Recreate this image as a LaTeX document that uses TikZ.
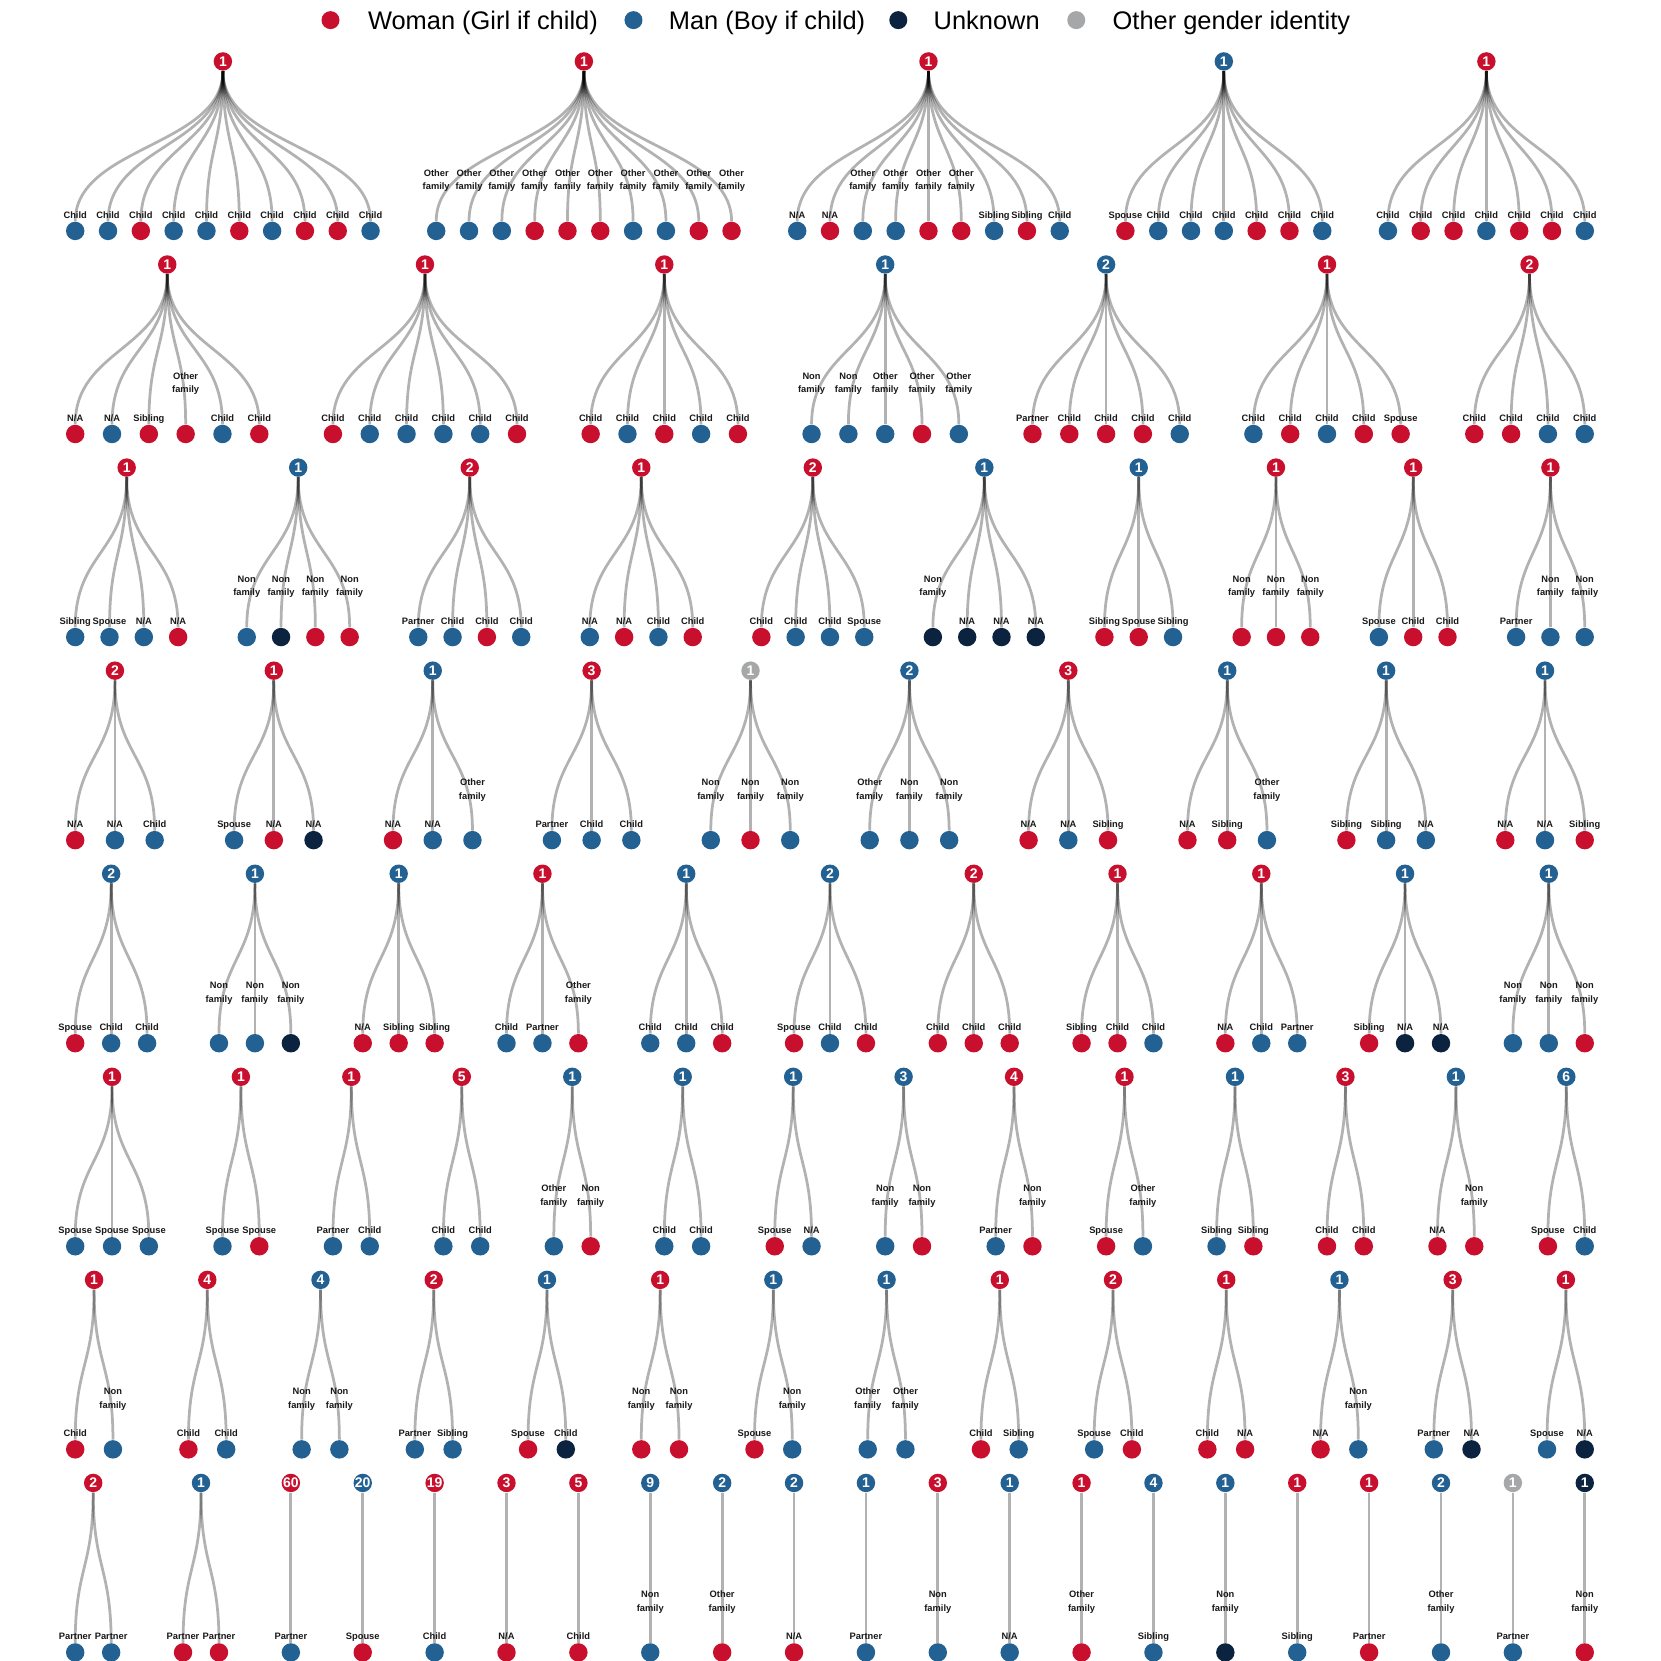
\documentclass[tikz,border=0pt]{standalone}
\usepackage{fontspec}
\setmainfont{Liberation Sans}
\definecolor{cw}{HTML}{C8102E}
\definecolor{cm}{HTML}{236192}
\definecolor{cu}{HTML}{0C2340}
\definecolor{cg}{HTML}{A5A7A8}
\tikzset{
 rootnode/.style={circle, inner sep=0pt, minimum size=8.7pt, text=white, font=\fontsize{6.6pt}{7pt}\selectfont\bfseries},
 leafnode/.style={circle, inner sep=0pt, minimum size=8.7pt},
 linkline/.style={draw=black, draw opacity=0.3, line width=1.3pt},
 lab/.style={anchor=base, inner sep=0pt, text=black!90, font=\fontsize{4.4pt}{5pt}\selectfont\bfseries},
 legdot/.style={circle, inner sep=0pt, minimum size=8.5pt},
 legtext/.style={anchor=base west, inner sep=0pt, font=\fontsize{12pt}{14pt}\selectfont},
}
% label macros: #1 node name, #2 x, #3 leaf y
\newcommand\famlabsingle[4]{\node[lab] (#1-l) at (#2,#3-11.8) {#4};}
\newcommand\famlabdouble[5]{\node[lab] (#1-la) at (#2,#3-51.8) {#4};\node[lab] (#1-lb) at (#2,#3-38.8) {#5};}
\newcommand\famlabC[3]{\famlabsingle{#1}{#2}{#3}{Child}}
\newcommand\famlabNA[3]{\famlabsingle{#1}{#2}{#3}{N/A}}
\newcommand\famlabS[3]{\famlabsingle{#1}{#2}{#3}{Sibling}}
\newcommand\famlabP[3]{\famlabsingle{#1}{#2}{#3}{Partner}}
\newcommand\famlabSp[3]{\famlabsingle{#1}{#2}{#3}{Spouse}}
\newcommand\famlabO[3]{\famlabdouble{#1}{#2}{#3}{Other}{family}}
\newcommand\famlabNF[3]{\famlabdouble{#1}{#2}{#3}{Non}{family}}
% #1 name, #2 root y, #3 spacing, #4 start index, #5 n children, #6 root colour, #7 number, #8 list colour/label
\newcommand\famtree[8]{%
  \pgfmathsetmacro\rx{71+(#4+(#5-1)/2)*#3}%
  \pgfmathsetmacro\ly{#2+160}%
  \pgfmathsetmacro\my{#2+80}%
  \node[rootnode, fill=#6] (#1) at (\rx,#2) {#7};
  \foreach \cc/\cl [count=\j from 0] in {#8} {
    \pgfmathsetmacro\cx{71+(#4+\j)*#3}
    \node[leafnode, fill=\cc] (#1-\j) at (\cx,\ly) {};
    \draw[linkline] (#1) .. controls (\rx,\my) and (\cx,\my) .. (#1-\j);
  }
  \foreach \cc/\cl [count=\j from 0] in {#8} {
    \pgfmathsetmacro\cx{71+(#4+\j)*#3}
    \csname famlab\cl\endcsname{#1-\j}{\cx}{\ly}
  }
}
\begin{document}
\begin{tikzpicture}[x=0.5pt,y=-0.5pt]
\useasboundingbox[fill=white] (0,0) rectangle (1568,1568);
% legend
\node[legdot, fill=cw] (lg1) at (312,19) {};
\node[legtext] (lt1) at (347,27.5) {Woman (Girl if child)};
\node[legdot, fill=cm] (lg2) at (598,19) {};
\node[legtext] (lt2) at (631,27.5) {Man (Boy if child)};
\node[legdot, fill=cu] (lg3) at (848,19) {};
\node[legtext] (lt3) at (881,27.5) {Unknown};
\node[legdot, fill=cg] (lg4) at (1016,19) {};
\node[legtext] (lt4) at (1050,27.5) {Other gender identity};
% row 1
\famtree{a1}{58}{30.98}{0}{10}{cw}{1}{cm/C,cm/C,cw/C,cm/C,cm/C,cw/C,cm/C,cw/C,cw/C,cm/C}
\famtree{a2}{58}{30.98}{11}{10}{cw}{1}{cm/O,cm/O,cm/O,cw/O,cw/O,cw/O,cm/O,cm/O,cw/O,cw/O}
\famtree{a3}{58}{30.98}{22}{9}{cw}{1}{cm/NA,cw/NA,cm/O,cm/O,cw/O,cw/O,cm/S,cw/S,cm/C}
\famtree{a4}{58}{30.98}{32}{7}{cm}{1}{cw/Sp,cm/C,cm/C,cm/C,cw/C,cw/C,cm/C}
\famtree{a5}{58}{30.98}{40}{7}{cw}{1}{cm/C,cw/C,cw/C,cm/C,cw/C,cw/C,cm/C}
% row 2
\famtree{b1}{249.7}{34.756}{0}{6}{cw}{1}{cw/NA,cm/NA,cw/S,cw/O,cm/C,cw/C}
\famtree{b2}{249.7}{34.756}{7}{6}{cw}{1}{cw/C,cm/C,cm/C,cm/C,cm/C,cw/C}
\famtree{b3}{249.7}{34.756}{14}{5}{cw}{1}{cw/C,cm/C,cw/C,cm/C,cw/C}
\famtree{b4}{249.7}{34.756}{20}{5}{cm}{1}{cm/NF,cm/NF,cm/O,cw/O,cm/O}
\famtree{b5}{249.7}{34.756}{26}{5}{cm}{2}{cw/P,cw/C,cw/C,cw/C,cm/C}
\famtree{b6}{249.7}{34.756}{32}{5}{cw}{1}{cm/C,cw/C,cm/C,cw/C,cw/Sp}
\famtree{b7}{249.7}{34.756}{38}{4}{cw}{2}{cw/C,cw/C,cm/C,cm/C}
% row 3
\famtree{c1}{441.4}{32.386}{0}{4}{cw}{1}{cm/S,cm/Sp,cm/NA,cw/NA}
\famtree{c2}{441.4}{32.386}{5}{4}{cm}{1}{cm/NF,cu/NF,cw/NF,cw/NF}
\famtree{c3}{441.4}{32.386}{10}{4}{cw}{2}{cm/P,cm/C,cw/C,cm/C}
\famtree{c4}{441.4}{32.386}{15}{4}{cw}{1}{cm/NA,cw/NA,cm/C,cw/C}
\famtree{c5}{441.4}{32.386}{20}{4}{cw}{2}{cw/C,cm/C,cm/C,cm/Sp}
\famtree{c6}{441.4}{32.386}{25}{4}{cm}{1}{cu/NF,cu/NA,cu/NA,cu/NA}
\famtree{c7}{441.4}{32.386}{30}{3}{cm}{1}{cw/S,cw/Sp,cm/S}
\famtree{c8}{441.4}{32.386}{34}{3}{cw}{1}{cw/NF,cw/NF,cw/NF}
\famtree{c9}{441.4}{32.386}{38}{3}{cw}{1}{cm/Sp,cw/C,cw/C}
\famtree{c10}{441.4}{32.386}{42}{3}{cw}{1}{cm/P,cm/NF,cm/NF}
% row 4
\famtree{d1}{633.1}{37.5}{0}{3}{cw}{2}{cw/NA,cm/NA,cm/C}
\famtree{d2}{633.1}{37.5}{4}{3}{cw}{1}{cm/Sp,cw/NA,cu/NA}
\famtree{d3}{633.1}{37.5}{8}{3}{cm}{1}{cw/NA,cm/NA,cm/O}
\famtree{d4}{633.1}{37.5}{12}{3}{cw}{3}{cm/P,cm/C,cm/C}
\famtree{d5}{633.1}{37.5}{16}{3}{cg}{1}{cm/NF,cw/NF,cm/NF}
\famtree{d6}{633.1}{37.5}{20}{3}{cm}{2}{cm/O,cm/NF,cm/NF}
\famtree{d7}{633.1}{37.5}{24}{3}{cw}{3}{cw/NA,cm/NA,cw/S}
\famtree{d8}{633.1}{37.5}{28}{3}{cm}{1}{cw/NA,cw/S,cm/O}
\famtree{d9}{633.1}{37.5}{32}{3}{cm}{1}{cw/S,cm/S,cm/NA}
\famtree{d10}{633.1}{37.5}{36}{3}{cm}{1}{cw/NA,cm/NA,cw/S}
% row 5
\famtree{e1}{824.8}{33.929}{0}{3}{cm}{2}{cw/Sp,cm/C,cm/C}
\famtree{e2}{824.8}{33.929}{4}{3}{cm}{1}{cm/NF,cm/NF,cu/NF}
\famtree{e3}{824.8}{33.929}{8}{3}{cm}{1}{cw/NA,cw/S,cw/S}
\famtree{e4}{824.8}{33.929}{12}{3}{cw}{1}{cm/C,cm/P,cw/O}
\famtree{e5}{824.8}{33.929}{16}{3}{cm}{1}{cm/C,cm/C,cw/C}
\famtree{e6}{824.8}{33.929}{20}{3}{cm}{2}{cw/Sp,cm/C,cw/C}
\famtree{e7}{824.8}{33.929}{24}{3}{cw}{2}{cw/C,cw/C,cw/C}
\famtree{e8}{824.8}{33.929}{28}{3}{cw}{1}{cw/S,cw/C,cm/C}
\famtree{e9}{824.8}{33.929}{32}{3}{cw}{1}{cw/NA,cm/C,cm/P}
\famtree{e10}{824.8}{33.929}{36}{3}{cm}{1}{cw/S,cu/NA,cu/NA}
\famtree{e11}{824.8}{33.929}{40}{3}{cm}{1}{cm/NF,cm/NF,cw/NF}
% row 6
\famtree{f1}{1016.5}{34.756}{0}{3}{cw}{1}{cm/Sp,cm/Sp,cm/Sp}
\famtree{f2}{1016.5}{34.756}{4}{2}{cw}{1}{cm/Sp,cw/Sp}
\famtree{f3}{1016.5}{34.756}{7}{2}{cw}{1}{cm/P,cm/C}
\famtree{f4}{1016.5}{34.756}{10}{2}{cw}{5}{cm/C,cm/C}
\famtree{f5}{1016.5}{34.756}{13}{2}{cm}{1}{cm/O,cw/NF}
\famtree{f6}{1016.5}{34.756}{16}{2}{cm}{1}{cm/C,cm/C}
\famtree{f7}{1016.5}{34.756}{19}{2}{cm}{1}{cw/Sp,cm/NA}
\famtree{f8}{1016.5}{34.756}{22}{2}{cm}{3}{cm/NF,cw/NF}
\famtree{f9}{1016.5}{34.756}{25}{2}{cw}{4}{cm/P,cw/NF}
\famtree{f10}{1016.5}{34.756}{28}{2}{cw}{1}{cw/Sp,cm/O}
\famtree{f11}{1016.5}{34.756}{31}{2}{cm}{1}{cm/S,cw/S}
\famtree{f12}{1016.5}{34.756}{34}{2}{cw}{3}{cw/C,cw/C}
\famtree{f13}{1016.5}{34.756}{37}{2}{cm}{1}{cw/NA,cw/NF}
\famtree{f14}{1016.5}{34.756}{40}{2}{cm}{6}{cw/Sp,cm/C}
% row 7
\famtree{g1}{1208.2}{35.625}{0}{2}{cw}{1}{cw/C,cm/NF}
\famtree{g2}{1208.2}{35.625}{3}{2}{cw}{4}{cw/C,cm/C}
\famtree{g3}{1208.2}{35.625}{6}{2}{cm}{4}{cm/NF,cm/NF}
\famtree{g4}{1208.2}{35.625}{9}{2}{cw}{2}{cm/P,cm/S}
\famtree{g5}{1208.2}{35.625}{12}{2}{cm}{1}{cw/Sp,cu/C}
\famtree{g6}{1208.2}{35.625}{15}{2}{cw}{1}{cw/NF,cw/NF}
\famtree{g7}{1208.2}{35.625}{18}{2}{cm}{1}{cw/Sp,cm/NF}
\famtree{g8}{1208.2}{35.625}{21}{2}{cm}{1}{cm/O,cm/O}
\famtree{g9}{1208.2}{35.625}{24}{2}{cw}{1}{cw/C,cm/S}
\famtree{g10}{1208.2}{35.625}{27}{2}{cw}{2}{cm/Sp,cw/C}
\famtree{g11}{1208.2}{35.625}{30}{2}{cw}{1}{cw/C,cw/NA}
\famtree{g12}{1208.2}{35.625}{33}{2}{cm}{1}{cw/NA,cm/NF}
\famtree{g13}{1208.2}{35.625}{36}{2}{cw}{3}{cm/P,cu/NA}
\famtree{g14}{1208.2}{35.625}{39}{2}{cw}{1}{cm/Sp,cu/NA}
% row 8
\famtree{h1}{1399.9}{33.929}{0}{2}{cw}{2}{cm/P,cm/P}
\famtree{h2}{1399.9}{33.929}{3}{2}{cm}{1}{cw/P,cw/P}
\famtree{h3}{1399.9}{33.929}{6}{1}{cw}{60}{cm/P}
\famtree{h4}{1399.9}{33.929}{8}{1}{cm}{20}{cw/Sp}
\famtree{h5}{1399.9}{33.929}{10}{1}{cw}{19}{cm/C}
\famtree{h6}{1399.9}{33.929}{12}{1}{cw}{3}{cw/NA}
\famtree{h7}{1399.9}{33.929}{14}{1}{cw}{5}{cw/C}
\famtree{h8}{1399.9}{33.929}{16}{1}{cm}{9}{cm/NF}
\famtree{h9}{1399.9}{33.929}{18}{1}{cm}{2}{cw/O}
\famtree{h10}{1399.9}{33.929}{20}{1}{cm}{2}{cw/NA}
\famtree{h11}{1399.9}{33.929}{22}{1}{cm}{1}{cm/P}
\famtree{h12}{1399.9}{33.929}{24}{1}{cw}{3}{cm/NF}
\famtree{h13}{1399.9}{33.929}{26}{1}{cm}{1}{cm/NA}
\famtree{h14}{1399.9}{33.929}{28}{1}{cw}{1}{cw/O}
\famtree{h15}{1399.9}{33.929}{30}{1}{cm}{4}{cm/S}
\famtree{h16}{1399.9}{33.929}{32}{1}{cm}{1}{cu/NF}
\famtree{h17}{1399.9}{33.929}{34}{1}{cw}{1}{cm/S}
\famtree{h18}{1399.9}{33.929}{36}{1}{cw}{1}{cw/P}
\famtree{h19}{1399.9}{33.929}{38}{1}{cm}{2}{cm/O}
\famtree{h20}{1399.9}{33.929}{40}{1}{cg}{1}{cm/P}
\famtree{h21}{1399.9}{33.929}{42}{1}{cu}{1}{cw/NF}
\end{tikzpicture}
\end{document}
